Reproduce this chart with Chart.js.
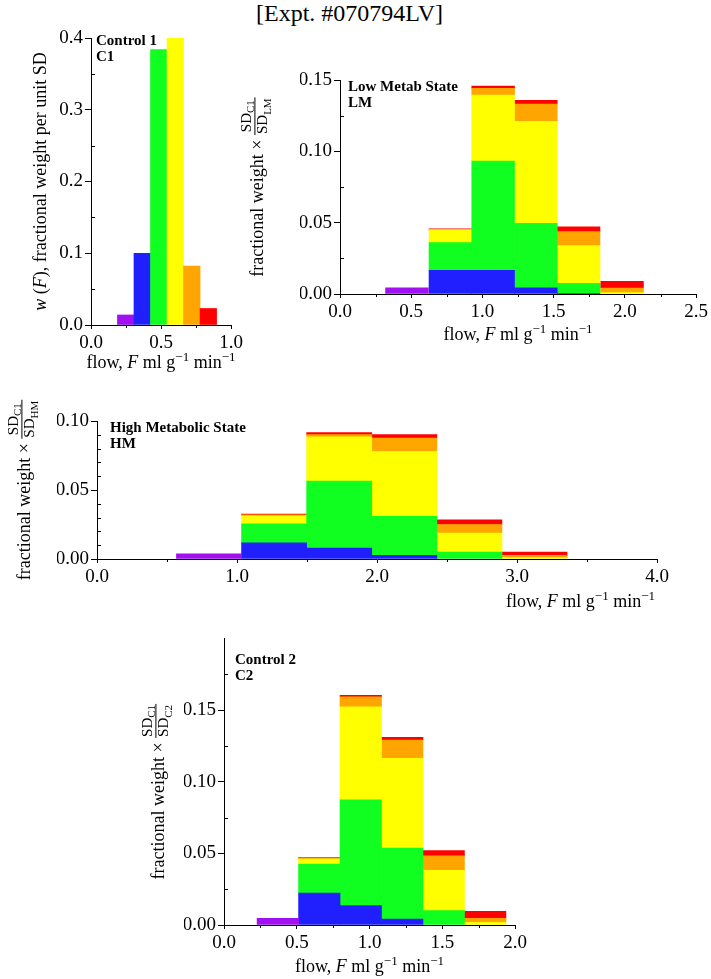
<!DOCTYPE html>
<html>
<head>
<meta charset="utf-8">
<title>Flow distributions, Expt. #070794LV</title>
<script src="https://cdn.jsdelivr.net/npm/chart.js@4.4.1/dist/chart.umd.min.js"></script>
<style>
  body { margin: 0; width: 711px; height: 979px; background: #fff; position: relative; overflow: hidden; }
  canvas { position: absolute; }
  #expt { position: absolute; left: 256px; top: -1px; font: 24px/28px "Liberation Serif", serif; color: #000; white-space: nowrap; }
</style>
</head>
<body>
<div id="expt">[Expt. #070794LV]</div>
<canvas id="c1"></canvas>
<canvas id="lm"></canvas>
<canvas id="hm"></canvas>
<canvas id="c2"></canvas>
<script>
// flow groups defined in Control 1, followed through the other states
const groupNames = ['group 1', 'group 2', 'group 3', 'group 4', 'group 5', 'group 6'];
const groupColors = ['#a010f0', '#2020ff', '#10ff20', '#ffff00', '#ffa500', '#ff0000'];

// Control 1
const c1Flow = [0.248, 0.366, 0.484, 0.602, 0.720, 0.838];
const c1Weight = [0.014, 0.100, 0.384, 0.400, 0.082, 0.023];

// Low metabolic state
const lmFlow = [0.47, 0.775, 1.075, 1.375, 1.675, 1.98];
const lmPurple = [0.0044, 0, 0, 0, 0, 0];
const lmBlue = [0, 0.0166, 0.0166, 0.0044, 0.0005, 0];
const lmGreen = [0, 0.0194, 0.0766, 0.0451, 0.0070, 0];
const lmYellow = [0, 0.0089, 0.0463, 0.0715, 0.0264, 0.0010];
const lmOrange = [0, 0.0003, 0.0047, 0.0122, 0.0098, 0.0032];
const lmRed = [0, 0.0004, 0.0016, 0.0025, 0.0033, 0.0047];

// High metabolic state
const hmFlow = [0.80, 1.265, 1.73, 2.195, 2.66, 3.125];
const hmPurple = [0.0038, 0, 0, 0, 0, 0];
const hmBlue = [0, 0.0118, 0.0079, 0.0026, 0, 0];
const hmGreen = [0, 0.0137, 0.0486, 0.0284, 0.0050, 0];
const hmYellow = [0, 0.0058, 0.0320, 0.0469, 0.0137, 0.0010];
const hmOrange = [0, 0.0007, 0.0016, 0.0098, 0.0063, 0.0016];
const hmRed = [0, 0.0005, 0.0015, 0.0024, 0.0034, 0.0024];

// Control 2
const c2Flow = [0.37, 0.655, 0.94, 1.225, 1.51, 1.795];
const c2Purple = [0.0046, 0, 0, 0, 0, 0];
const c2Blue = [0, 0.0223, 0.0135, 0.0042, 0, 0];
const c2Green = [0, 0.0202, 0.0738, 0.0494, 0.0100, 0];
const c2Yellow = [0, 0.0035, 0.0650, 0.0627, 0.0281, 0.0019];
const c2Orange = [0, 0.0007, 0.0070, 0.0128, 0.0102, 0.0027];
const c2Red = [0, 0.0004, 0.0009, 0.0019, 0.0037, 0.0049];

const SERIF = '"Liberation Serif", "Times New Roman", serif';
const TICK_FONT = {family: SERIF, size: 19};
const Y_W = 40, X_H = 30;

// ---- mixed-style text (italics, sub/superscripts, stacked fraction) ----
function partFont(p, size) {
  const s = (p.sub || p.sup) ? Math.round(size * 0.7) : size;
  return (p.it ? 'italic ' : '') + (p.b ? 'bold ' : '') + s + 'px ' + SERIF;
}
function fracWidth(ctx, p) {
  return Math.max(runWidth(ctx, p.num, p.size), runWidth(ctx, p.den, p.size)) + 2;
}
function runWidth(ctx, parts, size) {
  let w = 0;
  for (const p of parts) {
    if (p.num) { w += fracWidth(ctx, p); continue; }
    ctx.font = partFont(p, size);
    w += ctx.measureText(p.t).width;
  }
  return w;
}
function drawRun(ctx, parts, x, y, size) {
  for (const p of parts) {
    if (p.num) {
      const fw = fracWidth(ctx, p);
      const bar = y - size * 0.45;
      const nw = runWidth(ctx, p.num, p.size), dw = runWidth(ctx, p.den, p.size);
      drawRun(ctx, p.num, x + (fw - nw) / 2, bar - 4, p.size);
      drawRun(ctx, p.den, x + (fw - dw) / 2, bar + 2 + p.size * 0.7, p.size);
      ctx.fillRect(x, bar - 0.5, fw, 1);
      x += fw;
      continue;
    }
    ctx.font = partFont(p, size);
    const dy = p.sup ? -size * 0.4 : p.sub ? size * 0.22 : 0;
    ctx.fillText(p.t, x, y + dy);
    x += ctx.measureText(p.t).width;
  }
}
function drawText(ctx, item, area) {
  const w = runWidth(ctx, item.parts, item.size);
  const shift = item.align === 'center' ? -w / 2 : item.align === 'right' ? -w : 0;
  ctx.save();
  ctx.translate(item.x(area), item.y(area));
  if (item.rotate) ctx.rotate(-Math.PI / 2);
  ctx.textAlign = 'left';
  ctx.textBaseline = 'alphabetic';
  drawRun(ctx, item.parts, shift, 0, item.size);
  ctx.restore();
}

function drawMinorTicks(ctx, chart, minor) {
  const a = chart.chartArea, xs = chart.scales.x, ys = chart.scales.y;
  ctx.strokeStyle = '#000';
  ctx.lineWidth = 1;
  ctx.beginPath();
  const nx = Math.round((xs.max - xs.min) / minor.x);
  for (let i = 1; i < nx; i++) {
    const v = xs.min + i * minor.x;
    if (Math.abs(v / minor.xMajor - Math.round(v / minor.xMajor)) < 1e-6) continue;
    const px = Math.round(xs.getPixelForValue(v)) + 0.5;
    ctx.moveTo(px, a.bottom);
    ctx.lineTo(px, a.bottom + 3);
  }
  const ny = Math.round((ys.max - ys.min) / minor.y);
  for (let i = 1; i < ny; i++) {
    const v = ys.min + i * minor.y;
    if (Math.abs(v / minor.yMajor - Math.round(v / minor.yMajor)) < 1e-6) continue;
    const py = Math.round(ys.getPixelForValue(v)) + 0.5;
    ctx.moveTo(a.left, py);
    ctx.lineTo(a.left + 4, py);
  }
  ctx.stroke();
}

function decorPlugin(decor) {
  return {
    id: 'decor',
    afterDraw(chart) {
      const ctx = chart.ctx;
      ctx.save();
      drawMinorTicks(ctx, chart, decor.minor);
      ctx.fillStyle = '#000';
      for (const t of decor.texts) drawText(ctx, t, chart.chartArea);
      ctx.restore();
    }
  };
}

const flowTitle = [{t: 'flow, '}, {t: 'F', it: true}, {t: ' ml g'}, {t: '\u22121', sup: true}, {t: ' min'}, {t: '\u22121', sup: true}];
function ratioTitle(state) {
  return [{t: 'fractional weight \u00d7 '},
    {num: [{t: 'SD'}, {t: 'C1', sub: true}], den: [{t: 'SD'}, {t: state, sub: true}], size: 15}];
}
function labelLines(lines, dx, dy) {
  return lines.map((s, i) => ({
    parts: [{t: s, b: true}], size: 15, align: 'left',
    x: a => a.left + dx, y: a => a.top + dy + i * 16
  }));
}

function stackSets(flows, series) {
  return series.map((vals, g) => ({
    label: groupNames[g],
    data: flows.map((f, i) => ({x: f, y: vals[i] || null})),
    backgroundColor: groupColors[g],
    borderWidth: 0,
    grouped: false,
    barPercentage: 1,
    categoryPercentage: 1
  }));
}

function makeChart(id, geo, datasets, ax, decor) {
  const cv = document.getElementById(id);
  cv.width = geo.w; cv.height = geo.h;
  cv.style.left = geo.x + 'px'; cv.style.top = geo.y + 'px';
  return new Chart(cv, {
    type: 'bar',
    data: {datasets},
    options: {
      responsive: false,
      animation: false,
      devicePixelRatio: 1,
      layout: {padding: {left: geo.L - Y_W, top: geo.T, right: geo.w - geo.R, bottom: geo.h - geo.B - X_H}},
      plugins: {legend: {display: false}, tooltip: {enabled: false}},
      scales: {
        x: {
          type: 'linear', min: 0, max: ax.xMax, offset: false,
          border: {display: true, color: '#000', width: 1},
          grid: {display: true, drawOnChartArea: false, offset: false, color: '#000', tickLength: 4},
          ticks: {stepSize: ax.xStep, autoSkip: false, maxRotation: 0, color: '#000', font: TICK_FONT, padding: 3,
            callback: v => v.toFixed(1)},
          afterFit: s => { s.height = X_H; }
        },
        y: {
          stacked: true, min: 0, max: ax.yMax,
          border: {display: true, color: '#000', width: 1},
          grid: {display: true, drawOnChartArea: false, color: '#000', tickLength: 6},
          ticks: {stepSize: ax.yStep, autoSkip: false, color: '#000', font: TICK_FONT, padding: 2,
            callback: v => v.toFixed(ax.yDec)},
          afterBuildTicks: s => { s.ticks = s.ticks.filter(t => t.value <= ax.yLabelMax + 1e-9); },
          afterFit: s => { s.width = Y_W; }
        }
      }
    },
    plugins: [decorPlugin(decor)]
  });
}

// Control 1: single bars, one per group
makeChart('c1', {x: 0, y: 20, w: 250, h: 360, L: 91, T: 18, R: 231, B: 305},
  [{
    label: 'Control 1',
    data: c1Flow.map((f, i) => ({x: f, y: c1Weight[i]})),
    backgroundColor: groupColors,
    borderWidth: 0,
    barPercentage: 1,
    categoryPercentage: 1
  }],
  {xMax: 1.0, xStep: 0.5, yMax: 0.4, yStep: 0.1, yDec: 1, yLabelMax: 0.4},
  {
    minor: {x: 0.25, xMajor: 0.5, y: 0.05, yMajor: 0.1},
    texts: [
      {parts: [{t: 'w', it: true}, {t: ' ('}, {t: 'F', it: true}, {t: '), fractional weight per unit SD'}],
        size: 18, rotate: true, align: 'center', x: a => a.left - 45, y: a => (a.top + a.bottom) / 2},
      {parts: flowTitle, size: 18, align: 'center', x: a => (a.left + a.right) / 2, y: a => a.bottom + 43}
    ].concat(labelLines(['Control 1', 'C1'], 5, 7))
  });

makeChart('lm', {x: 230, y: 55, w: 481, h: 300, L: 110, T: 25, R: 467, B: 239},
  stackSets(lmFlow, [lmPurple, lmBlue, lmGreen, lmYellow, lmOrange, lmRed]),
  {xMax: 2.5, xStep: 0.5, yMax: 0.15, yStep: 0.05, yDec: 2, yLabelMax: 0.15},
  {
    minor: {x: 0.25, xMajor: 0.5, y: 0.025, yMajor: 0.05},
    texts: [
      {parts: ratioTitle('LM'), size: 18, rotate: true, align: 'center', x: a => a.left - 77, y: a => (a.top + a.bottom) / 2},
      {parts: flowTitle, size: 18, align: 'center', x: a => (a.left + a.right) / 2, y: a => a.bottom + 46}
    ].concat(labelLines(['Low Metab State', 'LM'], 8, 11))
  });

makeChart('hm', {x: 0, y: 380, w: 711, h: 235, L: 97, T: 41, R: 657, B: 179},
  stackSets(hmFlow, [hmPurple, hmBlue, hmGreen, hmYellow, hmOrange, hmRed]),
  {xMax: 4.0, xStep: 1.0, yMax: 0.10, yStep: 0.05, yDec: 2, yLabelMax: 0.10},
  {
    minor: {x: 0.5, xMajor: 1.0, y: 0.01, yMajor: 0.05},
    texts: [
      {parts: ratioTitle('HM'), size: 18, rotate: true, align: 'center', x: a => a.left - 67, y: a => (a.top + a.bottom) / 2},
      {parts: flowTitle, size: 18, align: 'right', x: a => a.right - 2, y: a => a.bottom + 48}
    ].concat(labelLines(['High Metabolic State', 'HM'], 13, 11))
  });

makeChart('c2', {x: 130, y: 625, w: 420, h: 354, L: 94, T: 13, R: 385, B: 300},
  stackSets(c2Flow, [c2Purple, c2Blue, c2Green, c2Yellow, c2Orange, c2Red]),
  {xMax: 2.0, xStep: 0.5, yMax: 0.20, yStep: 0.05, yDec: 2, yLabelMax: 0.15},
  {
    minor: {x: 0.25, xMajor: 0.5, y: 0.025, yMajor: 0.05},
    texts: [
      {parts: ratioTitle('C2'), size: 18, rotate: true, align: 'center', x: a => a.left - 60, y: a => (a.top + a.bottom) / 2 + 10},
      {parts: flowTitle, size: 18, align: 'center', x: a => (a.left + a.right) / 2, y: a => a.bottom + 47}
    ].concat(labelLines(['Control 2', 'C2'], 11, 26))
  });
</script>
</body>
</html>
